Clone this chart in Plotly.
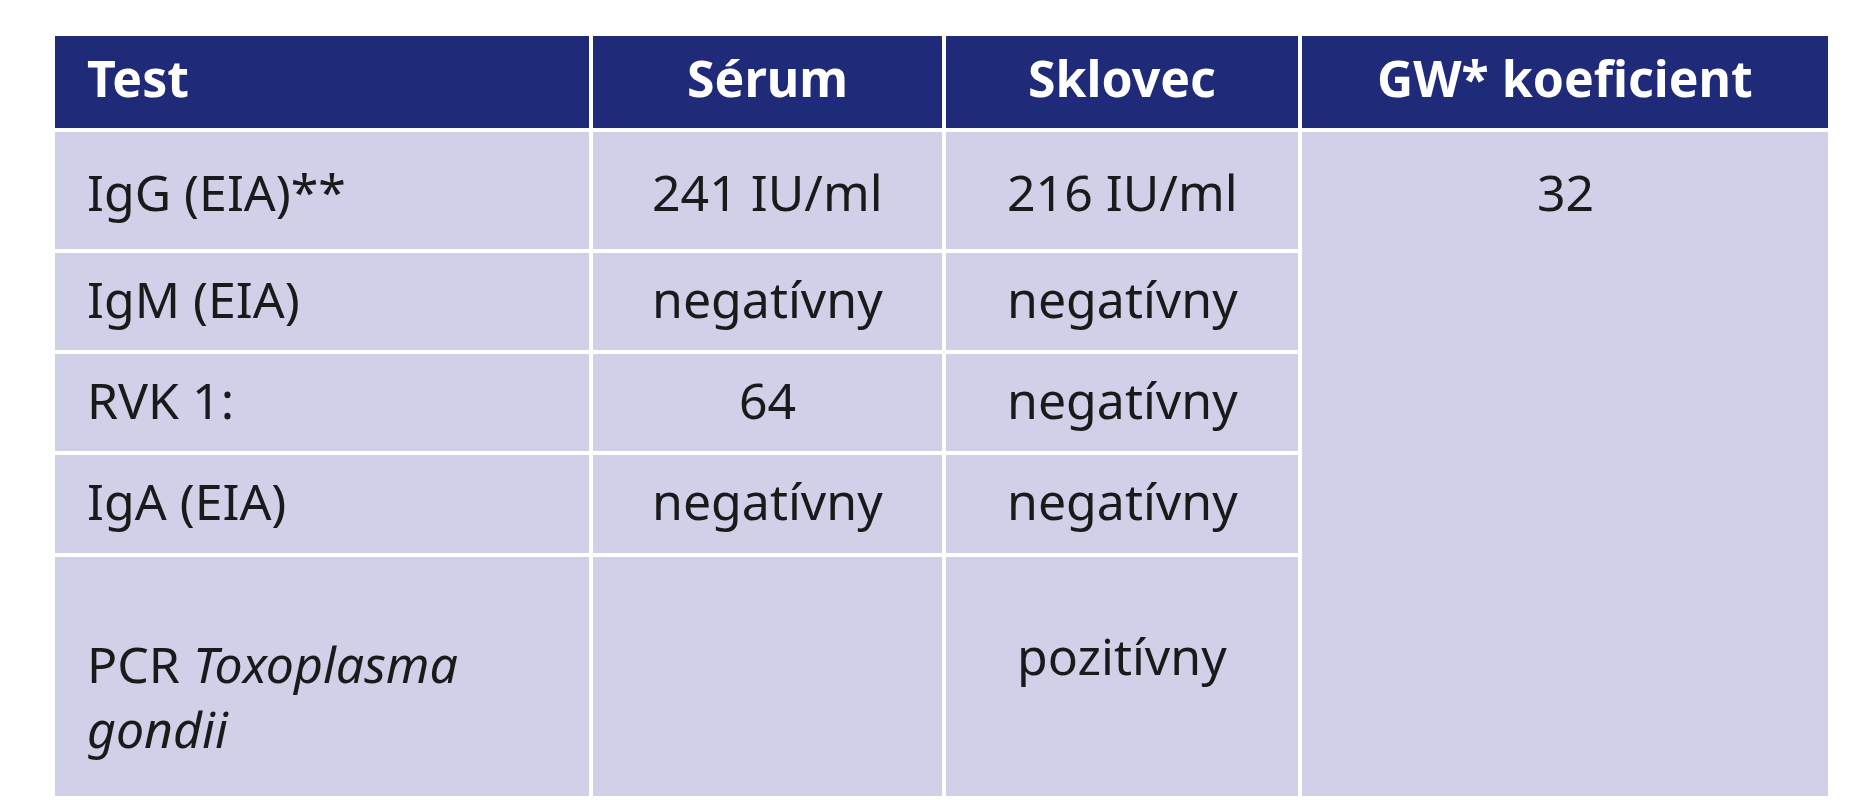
import plotly.graph_objects as go

headers = ["Test", "Sérum", "Sklovec", "GW* koeficient"]
tests = ["IgG (EIA)**", "IgM (EIA)", "RVK 1:", "IgA (EIA)", "PCR <i>Toxoplasma</i><br><i>gondii</i>"]
serum = ["241 IU/ml", "negatívny", "64", "negatívny", ""]
sklovec = ["216 IU/ml", "negatívny", "negatívny", "negatívny", "pozitívny"]
gw = "32"

W, H = 1867, 800
col_edges = [45, 583, 936, 1292, 1822]
row_edges = [26, 122, 243, 344, 445, 547, 790]
text_y = [70, 184, 291, 392, 493, 688]
pozit_y = 648

NAVY = "#1f2a78"
LAV = "#d0d0e8"
FONT = "Noto Sans"
FS = 50

fig = go.Figure()
shapes = []
ann = []

def cell(x0, x1, y0, y1, fill):
    shapes.append(dict(type="rect", xref="x", yref="y", x0=x0, x1=x1, y0=y0, y1=y1,
                       fillcolor=fill, line=dict(color="white", width=4), layer="below"))

# header
for i, h in enumerate(headers):
    cell(col_edges[i], col_edges[i + 1], row_edges[0], row_edges[1], NAVY)
    left = i == 0
    ann.append(dict(x=col_edges[i] + 32 if left else (col_edges[i] + col_edges[i + 1]) / 2,
                    y=text_y[0], text="<b>%s</b>" % h, showarrow=False,
                    xanchor="left" if left else "center", yanchor="middle",
                    font=dict(family=FONT, size=FS, color="white")))

# body rows, first three columns
for r in range(len(tests)):
    y0, y1 = row_edges[r + 1], row_edges[r + 2]
    last = r == len(tests) - 1
    for c, vals in enumerate([tests, serum, sklovec]):
        cell(col_edges[c], col_edges[c + 1], y0, y1, LAV)
        left = c == 0
        ann.append(dict(x=col_edges[c] + 32 if left else (col_edges[c] + col_edges[c + 1]) / 2,
                        y=pozit_y if (last and not left) else text_y[r + 1],
                        text=vals[r], showarrow=False,
                        xanchor="left" if left else "center", yanchor="middle", align="left",
                        font=dict(family=FONT, size=FS, color="#1a1a1a")))

# merged GW column
cell(col_edges[3], col_edges[4], row_edges[1], row_edges[-1], LAV)
ann.append(dict(x=(col_edges[3] + col_edges[4]) / 2, y=text_y[1], text=gw, showarrow=False,
                xanchor="center", yanchor="middle", font=dict(family=FONT, size=FS, color="#1a1a1a")))

fig.update_layout(
    width=W, height=H, margin=dict(l=0, r=0, t=0, b=0),
    paper_bgcolor="white", plot_bgcolor="white",
    xaxis=dict(range=[0, W], visible=False, fixedrange=True),
    yaxis=dict(range=[H, 0], visible=False, fixedrange=True),
    shapes=shapes, annotations=ann, showlegend=False,
)
fig.write_html("out.html")
